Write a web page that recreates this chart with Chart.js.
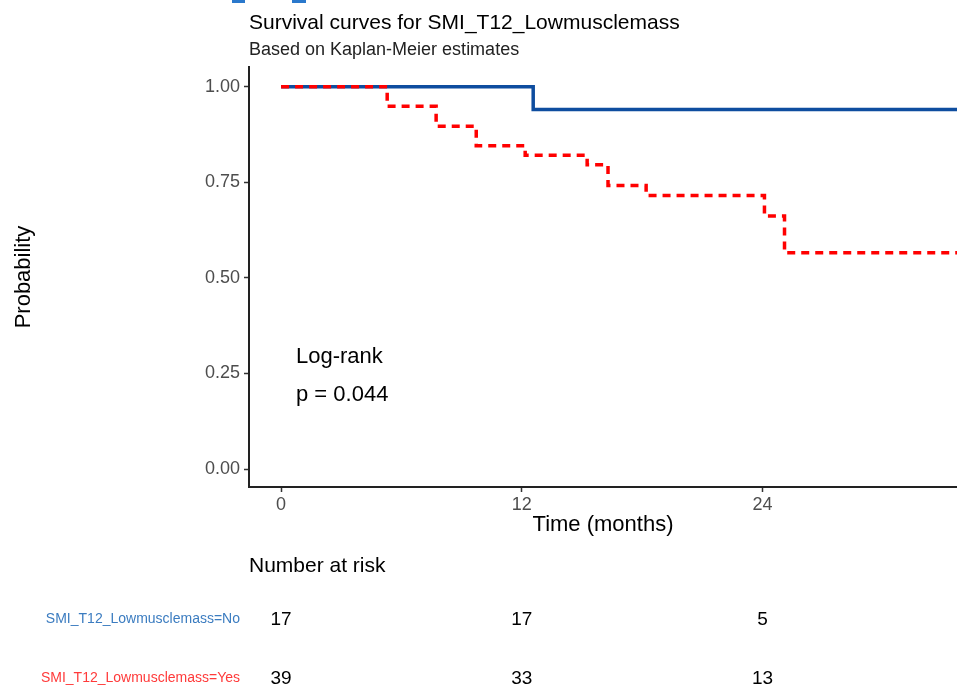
<!DOCTYPE html>
<html>
<head>
<meta charset="utf-8">
<script src="https://cdn.jsdelivr.net/npm/chart.js@4/dist/chart.umd.min.js"></script>
<style>
  html, body { margin: 0; padding: 0; background: #fff; }
  canvas { display: block; }
</style>
</head>
<body>
<canvas id="km" width="957" height="689"></canvas>
<script>
// Kaplan-Meier steps (time in months, survival probability)
const noTimes = [0, 12.57, 34];
const noSurv = [1, 0.941, 0.941];
const yesTimes = [0, 5.29, 7.73, 9.73, 12.17, 15.26, 16.3, 18.2, 24.1, 25.1, 34];
const yesSurv = [1, 0.949, 0.897, 0.846, 0.821, 0.796, 0.742, 0.716, 0.662, 0.566, 0.566];

// axis ticks
const xTicks = [0, 12, 24];
const yTicks = [0, 0.25, 0.5, 0.75, 1];

// number at risk table
const riskTimes = [0, 12, 24];
const riskNo = [17, 17, 5];
const riskYes = [39, 33, 13];
const riskLabels = ["SMI_T12_Lowmusclemass=No", "SMI_T12_Lowmusclemass=Yes"];

const FONT = '"Liberation Sans", Arial, Helvetica, sans-serif';
Chart.defaults.font.family = FONT;

function toPoints(times, surv) {
    return times.map((t, i) => ({ x: t, y: surv[i] }));
}

// text outside the plot: title, log-rank, risk table
const extraText = {
    id: "extraText",
    beforeDraw(chart) {
        const ctx = chart.ctx;
        ctx.save();
        ctx.fillStyle = "#fff";
        ctx.fillRect(0, 0, chart.width, chart.height);
        ctx.restore();
    },
    afterDraw(chart) {
        const ctx = chart.ctx;
        const x = chart.scales.x;
        ctx.save();

        // bits of cropped text at the very top
        ctx.fillStyle = "#2a78cc";
        ctx.fillRect(232, 0, 13, 3);
        ctx.fillRect(292, 0, 14, 3);

        ctx.textBaseline = "alphabetic";
        ctx.textAlign = "left";
        ctx.fillStyle = "#000";
        ctx.font = "21px " + FONT;
        ctx.fillText("Survival curves for SMI_T12_Lowmusclemass", 249, 29);
        ctx.fillStyle = "#222";
        ctx.font = "18px " + FONT;
        ctx.fillText("Based on Kaplan-Meier estimates", 249, 55);

        // log-rank
        ctx.fillStyle = "#000";
        ctx.font = "22px " + FONT;
        ctx.fillText("Log-rank", 296, 363);
        ctx.fillText("p = 0.044", 296, 401);

        // number at risk
        ctx.font = "21px " + FONT;
        ctx.fillText("Number at risk", 249, 572);

        ctx.textAlign = "right";
        ctx.font = "14px " + FONT;
        ctx.fillStyle = "#3b7cc0";
        ctx.fillText(riskLabels[0], 240, 623);
        ctx.fillStyle = "#ff3a3a";
        ctx.fillText(riskLabels[1], 240, 682);

        ctx.textAlign = "center";
        ctx.fillStyle = "#000";
        ctx.font = "19px " + FONT;
        riskTimes.forEach((t, i) => {
            const px = x.getPixelForValue(t);
            ctx.fillText(String(riskNo[i]), px, 625);
            ctx.fillText(String(riskYes[i]), px, 684);
        });
        ctx.restore();
    }
};

new Chart(document.getElementById("km"), {
    type: "line",
    data: {
        datasets: [
            {
                label: "Yes",
                data: toPoints(yesTimes, yesSurv),
                borderColor: "#ff0000",
                borderWidth: 3.5,
                borderDash: [8, 6],
                stepped: true,
                pointRadius: 0,
                fill: false
            },
            {
                label: "No",
                data: toPoints(noTimes, noSurv),
                borderColor: "#0e4d9f",
                borderWidth: 3.5,
                stepped: true,
                pointRadius: 0,
                fill: false
            }
        ]
    },
    options: {
        responsive: false,
        devicePixelRatio: 1,
        animation: false,
        layout: { padding: { top: 67, bottom: 151, left: 0, right: 0 } },
        plugins: {
            legend: { display: false },
            tooltip: { enabled: false }
        },
        scales: {
            x: {
                type: "linear",
                min: -1.6,
                max: 33.7,
                afterBuildTicks: s => { s.ticks = xTicks.map(v => ({ value: v })); },
                afterFit: s => { s.height = 51; },
                ticks: {
                    color: "#4d4d4d",
                    font: { size: 18 },
                    padding: 2,
                    maxRotation: 0,
                    autoSkip: false
                },
                grid: { drawOnChartArea: false, drawTicks: true, tickLength: 5, tickColor: "#333", tickWidth: 1.5 },
                border: { display: true, color: "#222", width: 2 },
                title: { display: true, text: "Time (months)", color: "#000", font: { size: 22 }, padding: { top: 0, bottom: 0 } }
            },
            y: {
                min: -0.047,
                max: 1.052,
                afterBuildTicks: s => { s.ticks = yTicks.map(v => ({ value: v })); },
                afterFit: s => { s.width = 249; },
                ticks: {
                    color: "#4d4d4d",
                    font: { size: 18 },
                    padding: 4,
                    callback: v => Number(v).toFixed(2)
                },
                grid: { drawOnChartArea: false, drawTicks: true, tickLength: 5, tickColor: "#333", tickWidth: 1.5 },
                border: { display: true, color: "#222", width: 2 },
                title: { display: true, text: "Probability", color: "#000", font: { size: 22 }, padding: { top: 11, bottom: 0 } }
            }
        }
    },
    plugins: [extraText]
});
</script>
</body>
</html>
